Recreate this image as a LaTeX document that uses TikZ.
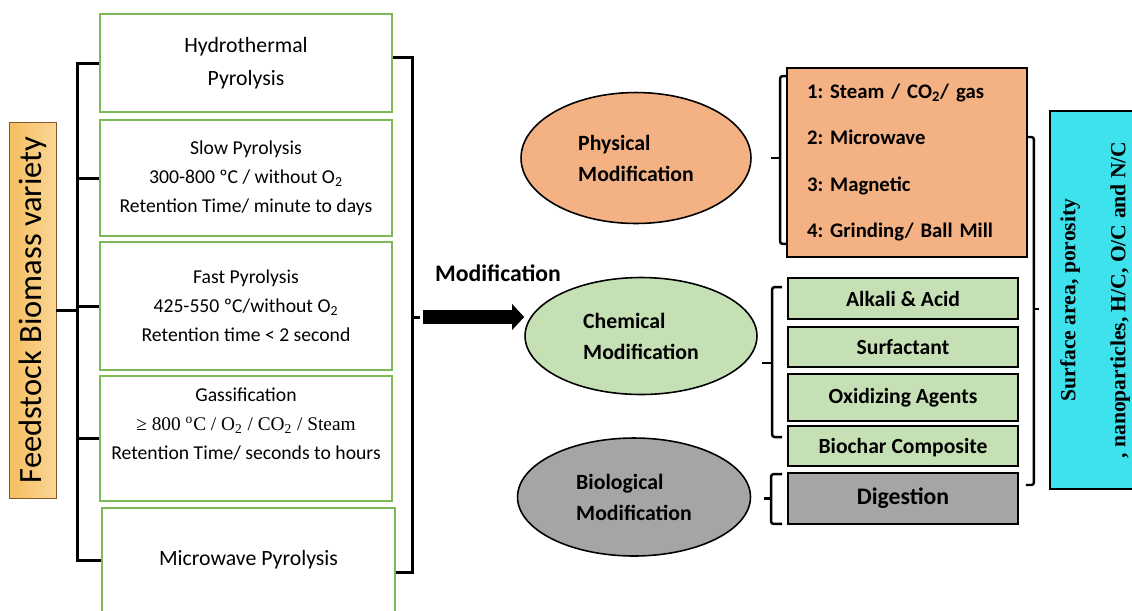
\documentclass[tikz,border=0pt]{standalone}
\usepackage{fontspec}
\setmainfont{Carlito}
\newfontfamily\tnr{Liberation Serif}
\usetikzlibrary{shapes.geometric,arrows.meta,calc}
\definecolor{leafgreen}{RGB}{125,185,85}
\definecolor{physorange}{RGB}{244,177,131}
\definecolor{chemgreen}{RGB}{197,224,180}
\definecolor{biogray}{RGB}{165,165,165}
\definecolor{resultcyan}{RGB}{62,226,236}
\definecolor{feeddark}{RGB}{245,190,95}
\definecolor{feedlight}{RGB}{251,214,150}

\begin{document}
\begin{tikzpicture}[x=0.02cm,y=-0.02cm,
  brk/.style={line width=1.7pt},
  sbrk/.style={line width=1.4pt, rounded corners=1.5pt},
  route/.style={draw=leafgreen, line width=1.2pt, fill=white, minimum width=5.84cm, align=center, inner sep=0pt},
  blob/.style={ellipse, draw, line width=0.9pt, align=left, font=\bfseries\fontsize{12.4}{17.6}\selectfont},
  tag/.style={draw, line width=1.1pt, minimum width=4.6cm, font=\bfseries\fontsize{12.3}{14}\selectfont}]
\useasboundingbox (0,0) rectangle (1132,610);

% feedstock
\node[draw=brown!70!black, line width=0.5pt, left color=feeddark, right color=feedlight,
  minimum width=0.94cm, minimum height=7.52cm, inner sep=0pt] (feed) at (32.5,310)
  {\rotatebox{90}{\fontsize{18.5}{22}\selectfont Feedstock Biomass variety}};

% thermal routes
\node[route, minimum height=1.96cm, font=\fontsize{12.4}{18.8}\selectfont] (hydro) at (246,63) {Hydrothermal\\Pyrolysis};
\node[route, minimum height=2.32cm, font=\fontsize{11.2}{16.5}\selectfont] (slow) at (246,178)
  {Slow Pyrolysis\\300-800 ºC / without O\textsubscript{2}\\Retention Time/ minute to days};
\node[route, minimum height=2.56cm, font=\fontsize{11.2}{16.5}\selectfont] (fast) at (246,306)
  {Fast Pyrolysis\\425-550 ºC/without O\textsubscript{2}\\Retention time < 2 second};
\node[route, minimum height=2.5cm, font=\fontsize{11.2}{16.5}\selectfont] (gas) at (246,438.5)
  {Gassification\\{\tnr\fontsize{11}{16.5}\selectfont ≥ 800 \textsuperscript{o}C / O\textsubscript{2} / CO\textsubscript{2} / Steam}\\Retention Time/ seconds to hours\\ \mbox{}};
\node[route, minimum width=5.86cm, minimum height=2.08cm, font=\fontsize{12.4}{18}\selectfont] (micro) at (248.5,560) {Microwave Pyrolysis};

% left bracket
\draw[brk] (hydro.west) -- ++(-21,0) |- (micro.west);
\foreach \n in {slow,fast,gas}
  \draw[brk] (\n.west) -- ++(-21,0);
\draw[brk] (feed.east) -- ++(23,0);

% right bracket and arrow
\draw[brk] ($(hydro.east)+(0,-6)$) -- ++(19,0) |- ($(micro.east)+(0,12)$);
\coordinate (join) at (411,317);
\draw[brk] (join) -- ++(9,0);
\node[font=\bfseries\fontsize{13.5}{16}\selectfont] (modlab) at (498,273) {Modification};

% modification types
\node[blob, fill=physorange, minimum width=4.6cm, minimum height=2.62cm] (phys) at (636,158) {Physical\\Modification};
\node[blob, fill=chemgreen, minimum width=4.64cm, minimum height=2.34cm] (chem) at (641,336) {Chemical\\Modification};
\node[blob, fill=biogray, minimum width=4.66cm, minimum height=2.36cm] (bio) at (634,497) {Biological\\Modification};

\draw[-{Triangle[length=0.24cm,width=0.5cm]}, line width=7.5pt] ($(join)+(12,0)$) -- (join -| chem.west);

% methods
\node[draw, line width=1.1pt, fill=physorange, text width=4cm, inner xsep=0.4cm, minimum height=3.78cm,
  align=left, font=\bfseries\fontsize{11.8}{26.3}\selectfont\frenchspacing] (physbox) at (907,162.5)
  {1: Steam / CO\textsubscript{2}/ gas\\2: Microwave\\3: Magnetic\\4: Grinding/ Ball Mill};
\node[tag, fill=chemgreen, minimum height=0.82cm] (alkali) at (903,298.5) {Alkali \& Acid};
\node[tag, fill=chemgreen, minimum height=0.8cm] (surf) at (903,347) {Surfactant};
\node[tag, fill=chemgreen, minimum height=0.94cm] (oxid) at (903,397.5) {Oxidizing Agents};
\node[tag, fill=chemgreen, minimum height=0.8cm, text depth=-2pt] (compo) at (903,446) {Biochar Composite};
\node[tag, fill=biogray, minimum height=1.02cm, font=\bfseries\fontsize{13.5}{16}\selectfont] (digest) at (903,498.5) {Digestion};

% small brackets
\draw[sbrk] ($(physbox.north west)+(0,9)$) -- ++(-6,0) |- ($(physbox.south west)+(0,-14)$);
\draw[sbrk] ($(physbox.west)+(-6,-4.5)$) -- ++(-9,0);
\draw[sbrk] ($(alkali.north west)+(-5,10)$) -- ++(-10,0) |- ($(compo.north west)+(-5,12)$);
\draw[sbrk] ($(surf.west)+(-15,16)$) -- ++(-10,0);
\draw[sbrk] ($(digest.north west)+(-5,2)$) -- ++(-11,0) |- ($(digest.south west)+(-5,-1)$);
\draw[sbrk] ($(digest.west)+(-16,0)$) -- ++(-7,0);

% big bracket
\draw[sbrk] ($(physbox.east)+(0,-25.5)$) -- ++(6,0) |- ($(compo.east)+(7,39)$);
\coordinate (fork) at (1033,309);
\draw[sbrk] (fork) -- ++(6,0);

% result
\node[draw, line width=1.1pt, fill=resultcyan, minimum width=1.8cm, minimum height=7.56cm, inner sep=0pt] (result) at (1095,300)
  {\rotatebox{90}{\parbox{7cm}{\centering\tnr\bfseries\fontsize{12.3}{28.4}\selectfont Surface area, porosity\\, nanoparticles, H/C, O/C and N/C}}};
\end{tikzpicture}
\end{document}
